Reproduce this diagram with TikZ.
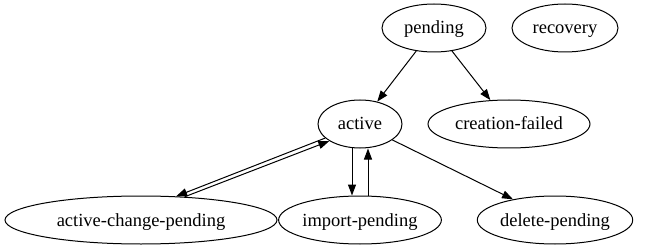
\documentclass[tikz,border=0pt]{standalone}
\usepackage{fontspec}
\setmainfont{Liberation Serif}
\usetikzlibrary{arrows.meta,shapes.geometric}
\begin{document}
\begin{tikzpicture}[x=1pt,y=-1pt,
  st/.style={draw,ellipse,inner sep=0pt,minimum height=48pt,line width=1pt,text height=16pt,text depth=4pt,font=\fontsize{18.5}{22}\selectfont},
  arr/.style={-{Triangle[length=11pt,width=8pt]},line width=1pt}]
\useasboundingbox (0,0) rectangle (645,251);
\node[st,minimum width=104pt] (pending) at (434,28) {pending};
\node[st,minimum width=106pt] (recovery) at (565,28) {recovery};
\node[st,minimum width=84pt] (active) at (360,124) {active};
\node[st,minimum width=162pt] (cf) at (509,124) {creation-failed};
\node[st,minimum width=272pt] (acp) at (141,220) {active-change-pending};
\node[st,minimum width=128pt] (ip) at (360,220) {import-pending};
\node[st,minimum width=128pt] (dp) at (555,220) {delete-pending};
\draw[arr] (pending) -- (active);
\draw[arr] (pending) -- (cf);
\draw[arr] (active.202) -- (acp.34);
\draw[arr] (acp.28) -- (active.209);
\draw[arr] ([xshift=-8pt]active.south) -- ([xshift=-8pt]ip.north);
\draw[arr] ([xshift=8pt]ip.north) -- ([xshift=8pt]active.south);
\draw[arr] (active) -- (dp);
\end{tikzpicture}
\end{document}
